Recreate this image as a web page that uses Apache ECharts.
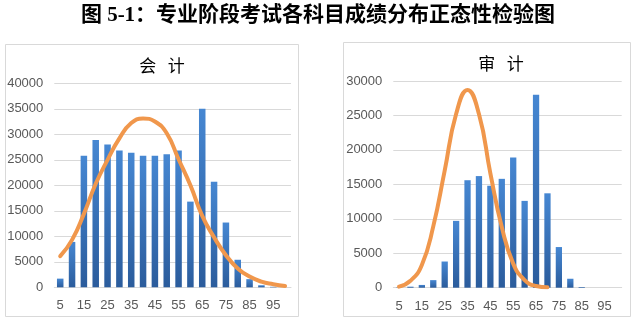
<!DOCTYPE html>
<html>
<head>
<meta charset="utf-8">
<script src="https://cdn.jsdelivr.net/npm/echarts@6/dist/echarts.min.js"></script>
<style>
  html, body { margin: 0; padding: 0; background: #ffffff; }
  #chart { width: 636px; height: 324px; }
</style>
</head>
<body>
<div id="chart"></div>
<script>
// Score bands (lower bound of each 5-point band)
const scoreBands = ['5','10','15','20','25','30','35','40','45','50','55','60','65','70','75','80','85','90','95','100'];

// 会计: candidate counts per band and fitted normal curve
const accountingCounts = [1700, 8900, 25800, 28900, 28000, 26800, 26400, 25800, 25800, 26100, 26800, 16800, 35000, 20700, 12700, 5400, 1600, 400, 100, 0];
const accountingNormal = [6100, 9300, 14400, 20300, 25000, 29200, 32200, 33100, 32500, 30200, 25100, 20000, 14000, 9800, 6300, 3700, 2100, 1100, 600, 250];

// 审计: candidate counts per band and fitted normal curve
const auditCounts = [50, 150, 400, 1100, 3800, 9700, 15600, 16200, 14800, 15800, 18900, 12600, 28000, 13700, 5900, 1300, 100, 0, 0, 0];
const auditNormal = [150, 1000, 3300, 8900, 17000, 25200, 28700, 25200, 16600, 8800, 3500, 1100, 250, 50];

const accountingTicks = { min: 0, max: 40000, interval: 5000 };
const auditTicks = { min: 0, max: 30000, interval: 5000 };

const mainTitle = '图 5-1：专业阶段考试各科目成绩分布正态性检验图';
const panelTitles = ['会   计', '审   计'];

const gridColor = '#d9d9d9';
const labelColor = '#595959';
const numFont = '"Liberation Sans", Arial, sans-serif';

const barFill = new echarts.graphic.LinearGradient(0, 0, 0, 1, [
  { offset: 0, color: '#4687d2' },
  { offset: 1, color: '#2b5c9c' }
]);

function xAxisFor(gridIndex) {
  return {
    type: 'category',
    gridIndex: gridIndex,
    data: scoreBands,
    boundaryGap: true,
    axisTick: { show: false },
    axisLine: { lineStyle: { color: gridColor, width: 1 } },
    axisLabel: { interval: 1, color: labelColor, fontSize: 13, fontFamily: numFont, margin: 12 }
  };
}

function yAxisFor(gridIndex, ticks) {
  return {
    type: 'value',
    gridIndex: gridIndex,
    min: ticks.min,
    max: ticks.max,
    interval: ticks.interval,
    axisLine: { show: false },
    axisTick: { show: false },
    splitLine: { lineStyle: { color: gridColor, width: 1 } },
    axisLabel: {
      color: labelColor, fontSize: 13, fontFamily: numFont, margin: 11,
      formatter: function (v) { return String(v); }
    }
  };
}

function barSeries(idx, data) {
  return {
    type: 'bar',
    xAxisIndex: idx,
    yAxisIndex: idx,
    data: data,
    barWidth: '55%',
    itemStyle: { color: barFill },
    z: 2
  };
}

function curveSeries(idx, data) {
  return {
    type: 'line',
    xAxisIndex: idx,
    yAxisIndex: idx,
    data: data,
    smooth: 0.5,
    symbol: 'none',
    lineStyle: { color: '#f0974c', width: 4, cap: 'round' },
    z: 5
  };
}

const chart = echarts.init(document.getElementById('chart'), null, { renderer: 'canvas' });

chart.setOption({
  animation: false,
  backgroundColor: '#ffffff',
  grid: [
    { left: 54.3, top: 83.3, width: 236.7, height: 204, containLabel: false },
    { left: 393.3, top: 81, width: 228.4, height: 206.7, containLabel: false }
  ],
  xAxis: [xAxisFor(0), xAxisFor(1)],
  yAxis: [yAxisFor(0, accountingTicks), yAxisFor(1, auditTicks)],
  series: [
    barSeries(0, accountingCounts),
    curveSeries(0, accountingNormal),
    barSeries(1, auditCounts),
    curveSeries(1, auditNormal)
  ],
  graphic: [
    {
      type: 'rect', z: 0, silent: true,
      shape: { x: 5.5, y: 44.5, width: 293, height: 272 },
      style: { fill: 'none', stroke: gridColor, lineWidth: 1 }
    },
    {
      type: 'rect', z: 0, silent: true,
      shape: { x: 343.5, y: 42.5, width: 287, height: 274 },
      style: { fill: 'none', stroke: gridColor, lineWidth: 1 }
    },
    {
      type: 'text', z: 10,
      style: {
        text: mainTitle, x: 318, y: 16,
        textAlign: 'center', textVerticalAlign: 'middle',
        font: 'bold 21px "Liberation Serif", "Noto Sans CJK SC", serif',
        fill: '#000000'
      }
    },
    {
      type: 'text', z: 10,
      style: {
        text: panelTitles[0], x: 162, y: 66,
        textAlign: 'center', textVerticalAlign: 'middle',
        font: '17px "Noto Sans CJK SC", sans-serif',
        fill: '#000000'
      }
    },
    {
      type: 'text', z: 10,
      style: {
        text: panelTitles[1], x: 501, y: 64,
        textAlign: 'center', textVerticalAlign: 'middle',
        font: '17px "Noto Sans CJK SC", sans-serif',
        fill: '#000000'
      }
    }
  ]
});
</script>
</body>
</html>
